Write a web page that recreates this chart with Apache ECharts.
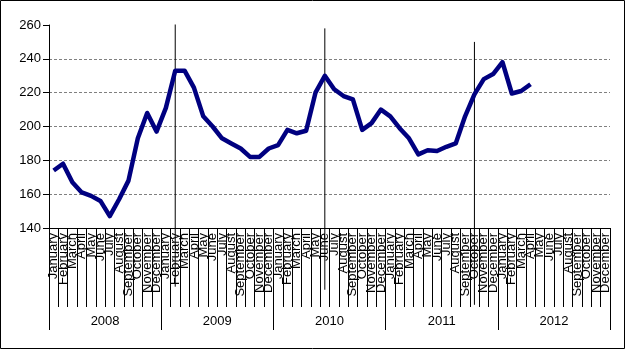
<!DOCTYPE html>
<html>
<head>
<meta charset="utf-8">
<script src="https://cdn.jsdelivr.net/npm/echarts@6/dist/echarts.min.js"></script>
<style>
html,body{margin:0;padding:0;background:#fff;}
#main{width:625px;height:349px;}
</style>
</head>
<body>
<div id="main"></div>
<script>
var months = ['January','February','March','April','May','June','July','August','September','October','November','December'];
var years = ['2008','2009','2010','2011','2012'];
var yTicks = [140, 260, 20];

// monthly values Jan 2008 - Apr 2012
var values = [
	174, 178, 167, 161, 159, 156, 147, 157, 168, 193, 208, 197,
	211, 233, 233, 223, 206, 200, 193, 190, 187, 182, 182, 187,
	189, 198, 196, 197.5, 220, 230, 222, 218, 216, 198, 202, 210,
	206, 199, 193, 183.5, 186, 185.5, 188, 190, 206, 219, 228, 231,
	238, 219.5, 221, 225
];

// vertical marker lines: [category index, top value, bottom value]
var markers = [
	[13, 260.3, 105.3],
	[29, 258, 103.5],
	[45, 250, 94.6]
];

var categories = [];
years.forEach(function(y){
	months.forEach(function(m){ categories.push(m); });
});

var myChart = echarts.init(document.getElementById('main'));
var font = 'Liberation Sans, Arial, sans-serif';
var option = {
	animation: false,
	backgroundColor: '#fff',
	graphic: [{
		type: 'rect',
		shape: {x: 0.5, y: 0.5, width: 624, height: 348},
		style: {fill: 'none', stroke: '#000', lineWidth: 1},
		silent: true
	}],
	grid: {left: 49, right: 15, top: 25, bottom: 121},
	xAxis: [{
		type: 'category',
		data: categories,
		boundaryGap: true,
		axisLine: {lineStyle: {color: '#000', width: 1}},
		axisTick: {show: true, interval: 0, length: 79, lineStyle: {color: '#000'}},
		axisLabel: {
			interval: 0, rotate: 90, margin: 5,
			color: '#000', fontSize: 13, fontFamily: font
		},
		splitLine: {show: false}
	}, {
		type: 'category',
		data: years,
		position: 'bottom',
		boundaryGap: true,
		axisLine: {show: false},
		axisTick: {show: true, interval: 0, length: 102, lineStyle: {color: '#000'}},
		axisLabel: {interval: 0, margin: 87, color: '#000', fontSize: 13, fontFamily: font},
		splitLine: {show: false}
	}],
	yAxis: {
		type: 'value',
		min: yTicks[0],
		max: yTicks[1],
		interval: yTicks[2],
		axisLine: {show: true, lineStyle: {color: '#000'}},
		axisTick: {show: true, length: 6, lineStyle: {color: '#000'}},
		axisLabel: {margin: 8, color: '#000', fontSize: 13, fontFamily: font},
		splitLine: {
			show: true, showMinLine: false, showMaxLine: false,
			lineStyle: {color: '#808080', type: [3, 2], width: 1}
		}
	},
	series: [{
		type: 'custom',
		xAxisIndex: 0,
		yAxisIndex: 0,
		clip: false,
		z: 1,
		silent: true,
		encode: {x: 0, y: 1},
		data: markers,
		renderItem: function(params, api){
			var top = api.coord([api.value(0), api.value(1)]);
			var bot = api.coord([api.value(0), api.value(2)]);
			return {
				type: 'line',
				shape: {x1: top[0], y1: top[1], x2: bot[0], y2: bot[1]},
				style: {stroke: '#000', lineWidth: 1}
			};
		}
	}, {
		type: 'line',
		xAxisIndex: 0,
		yAxisIndex: 0,
		z: 3,
		data: values,
		showSymbol: false,
		symbol: 'none',
		lineStyle: {color: '#000080', width: 4.5, join: 'round'}
	}]
};
myChart.setOption(option);
</script>
</body>
</html>
